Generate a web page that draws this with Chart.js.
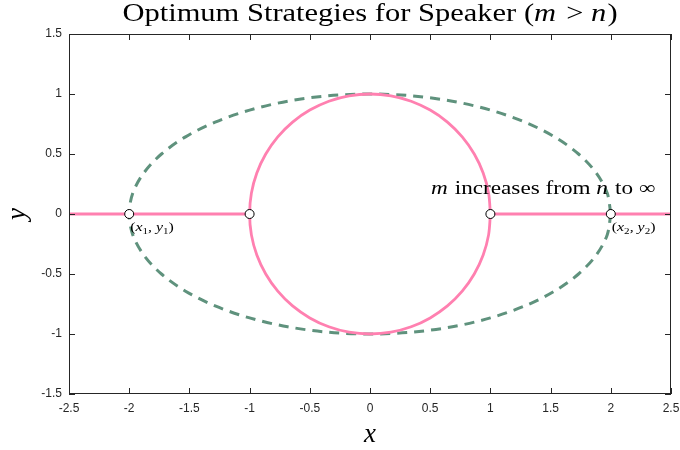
<!DOCTYPE html>
<html>
<head>
<meta charset="utf-8">
<script src="https://cdn.jsdelivr.net/npm/chart.js@4"></script>
<style>
  html, body { margin: 0; padding: 0; background: #ffffff; }
  #wrap { width: 680px; height: 450px; position: relative; }
</style>
</head>
<body>
<div id="wrap"><canvas id="chart" width="680" height="450"></canvas></div>
<script>
// Unit circle traced every 10 degrees
const circleX = [1, 0.985, 0.94, 0.866, 0.766, 0.643, 0.5, 0.342, 0.174, 0, -0.174, -0.342, -0.5, -0.643, -0.766, -0.866, -0.94, -0.985, -1, -0.985, -0.94, -0.866, -0.766, -0.643, -0.5, -0.342, -0.174, 0, 0.174, 0.342, 0.5, 0.643, 0.766, 0.866, 0.94, 0.985, 1];
const circleY = [0, 0.174, 0.342, 0.5, 0.643, 0.766, 0.866, 0.94, 0.985, 1, 0.985, 0.94, 0.866, 0.766, 0.643, 0.5, 0.342, 0.174, 0, -0.174, -0.342, -0.5, -0.643, -0.766, -0.866, -0.94, -0.985, -1, -0.985, -0.94, -0.866, -0.766, -0.643, -0.5, -0.342, -0.174, 0];

// Ellipse with semi-axes 2 (x) and 1 (y)
const ellipseX = [2, 1.97, 1.879, 1.732, 1.532, 1.286, 1, 0.684, 0.347, 0, -0.347, -0.684, -1, -1.286, -1.532, -1.732, -1.879, -1.97, -2, -1.97, -1.879, -1.732, -1.532, -1.286, -1, -0.684, -0.347, 0, 0.347, 0.684, 1, 1.286, 1.532, 1.732, 1.879, 1.97, 2];
const ellipseY = [0, 0.174, 0.342, 0.5, 0.643, 0.766, 0.866, 0.94, 0.985, 1, 0.985, 0.94, 0.866, 0.766, 0.643, 0.5, 0.342, 0.174, 0, -0.174, -0.342, -0.5, -0.643, -0.766, -0.866, -0.94, -0.985, -1, -0.985, -0.94, -0.866, -0.766, -0.643, -0.5, -0.342, -0.174, 0];

// Horizontal branches on the x axis
const leftBranchX = [-2.5, -1];
const rightBranchX = [1, 2.5];
const branchY = [0, 0];

// Marked points
const markerX = [-2, -1, 1, 2];
const markerY = [0, 0, 0, 0];

// Axis ranges and tick step
const xRange = [-2.5, 2.5];
const yRange = [-1.5, 1.5];
const tickStep = 0.5;

const zip = (xs, ys) => xs.map((x, i) => ({ x: x, y: ys[i] }));
const tickText = v => String(Math.round(v * 10) / 10);

const SERIF = '"Liberation Serif", "DejaVu Serif", serif';
const PINK = '#ff80b0';
const GREEN = '#5f927d';
const WIDEN = 1.22; // horizontal stretch for the serif math-style text

// Draws a run of text pieces (some italic), with optional subscripts
function drawRuns(ctx, runs, x, y, size, align) {
  let total = 0;
  const widths = runs.map(r => {
    const s = r.sub ? size * 0.7 : size;
    ctx.font = (r.it ? 'italic ' : '') + s + 'px ' + SERIF;
    const w = ctx.measureText(r.t).width + (r.gap || 0);
    total += w;
    return w;
  });
  const start = align === 'center' ? x - total * WIDEN / 2 : x;
  ctx.save();
  ctx.translate(start, y);
  ctx.scale(WIDEN, 1);
  ctx.textAlign = 'left';
  ctx.textBaseline = 'alphabetic';
  let cx = 0;
  runs.forEach((r, i) => {
    const s = r.sub ? size * 0.7 : size;
    ctx.font = (r.it ? 'italic ' : '') + s + 'px ' + SERIF;
    ctx.fillText(r.t, cx, r.sub ? size * 0.22 : 0);
    cx += widths[i];
  });
  ctx.restore();
}

const frame = {
  id: 'frame',
  afterDatasetsDraw(chart) {
    const ctx = chart.ctx;
    const a = chart.chartArea;
    const xs = chart.scales.x, ys = chart.scales.y;
    ctx.save();
    ctx.strokeStyle = '#262626';
    ctx.lineWidth = 1;
    ctx.strokeRect(a.left + 0.5, a.top + 0.5, a.right - a.left - 1, a.bottom - a.top - 1);
    ctx.beginPath();
    xs.ticks.forEach(t => {
      const px = Math.round(xs.getPixelForValue(t.value)) + 0.5;
      ctx.moveTo(px, a.bottom); ctx.lineTo(px, a.bottom - 6);
      ctx.moveTo(px, a.top); ctx.lineTo(px, a.top + 6);
    });
    ys.ticks.forEach(t => {
      const py = Math.round(ys.getPixelForValue(t.value)) + 0.5;
      ctx.moveTo(a.left, py); ctx.lineTo(a.left + 6, py);
      ctx.moveTo(a.right, py); ctx.lineTo(a.right - 6, py);
    });
    ctx.stroke();
    ctx.restore();
  },
  afterDraw(chart) {
    const ctx = chart.ctx;
    const a = chart.chartArea;
    const xs = chart.scales.x, ys = chart.scales.y;
    ctx.save();
    ctx.fillStyle = '#000000';

    // Title
    drawRuns(ctx, [
      { t: 'Optimum Strategies for Speaker (' },
      { t: 'm', it: true, gap: 2 },
      { t: ' > ' },
      { t: 'n', it: true, gap: 1 },
      { t: ')' }
    ], (a.left + a.right) / 2, 21, 25, 'center');

    // Axis titles
    ctx.font = 'italic 27px ' + SERIF;
    ctx.textAlign = 'center';
    ctx.textBaseline = 'alphabetic';
    ctx.fillText('x', (a.left + a.right) / 2, 442);
    ctx.save();
    ctx.translate(25, (a.top + a.bottom) / 2);
    ctx.rotate(-Math.PI / 2);
    ctx.fillText('y', 0, 0);
    ctx.restore();

    // Point annotations
    const p1x = xs.getPixelForValue(markerX[0]);
    const p2x = xs.getPixelForValue(markerX[3]);
    const py = ys.getPixelForValue(markerY[0]);
    drawRuns(ctx, [
      { t: '(' }, { t: 'x', it: true }, { t: '1', sub: true },
      { t: ', ' }, { t: 'y', it: true }, { t: '1', sub: true }, { t: ')' }
    ], p1x + 1, py + 17, 13, 'left');
    drawRuns(ctx, [
      { t: '(' }, { t: 'x', it: true }, { t: '2', sub: true },
      { t: ', ' }, { t: 'y', it: true }, { t: '2', sub: true }, { t: ')' }
    ], p2x + 1, py + 17, 13, 'left');

    // Annotation about m
    drawRuns(ctx, [
      { t: 'm', it: true, gap: 1 },
      { t: ' increases from ' },
      { t: 'n', it: true, gap: 1 },
      { t: ' to \u221E' }
    ], 431, 194, 19, 'left');
    ctx.restore();
  }
};

new Chart(document.getElementById('chart'), {
  type: 'scatter',
  data: {
    datasets: [
      {
        data: zip(ellipseX, ellipseY),
        showLine: true,
        borderColor: GREEN,
        borderWidth: 3,
        borderDash: [10, 7],
        tension: 0.33,
        pointRadius: 0,
        fill: false,
        order: 4
      },
      {
        data: zip(circleX, circleY),
        showLine: true,
        borderColor: PINK,
        borderWidth: 2.8,
        tension: 0.33,
        pointRadius: 0,
        fill: false,
        order: 3
      },
      {
        data: zip(leftBranchX, branchY),
        showLine: true,
        borderColor: PINK,
        borderWidth: 2.8,
        pointRadius: 0,
        order: 2
      },
      {
        data: zip(rightBranchX, branchY),
        showLine: true,
        borderColor: PINK,
        borderWidth: 2.8,
        pointRadius: 0,
        order: 2
      },
      {
        data: zip(markerX, markerY),
        showLine: false,
        pointRadius: 4.5,
        pointBackgroundColor: '#ffffff',
        pointBorderColor: '#000000',
        pointBorderWidth: 1,
        order: 1
      }
    ]
  },
  options: {
    responsive: false,
    animation: false,
    devicePixelRatio: 1,
    layout: { padding: { top: 34, right: 9, left: 0, bottom: 0 } },
    plugins: {
      legend: { display: false },
      tooltip: { enabled: false },
      title: { display: false }
    },
    scales: {
      x: {
        type: 'linear',
        min: xRange[0],
        max: xRange[1],
        grid: { display: false, drawTicks: false },
        border: { display: false },
        ticks: {
          stepSize: tickStep,
          autoSkip: false,
          padding: 7,
          color: '#262626',
          callback: tickText,
          font: { family: '"Liberation Sans", Arial, sans-serif', size: 12 }
        },
        afterFit(scale) { scale.height = 56; scale.paddingLeft = 0; scale.paddingRight = 0; }
      },
      y: {
        type: 'linear',
        min: yRange[0],
        max: yRange[1],
        grid: { display: false, drawTicks: false },
        border: { display: false },
        ticks: {
          stepSize: tickStep,
          autoSkip: false,
          padding: 7,
          color: '#262626',
          callback: tickText,
          font: { family: '"Liberation Sans", Arial, sans-serif', size: 12 }
        },
        afterFit(scale) { scale.width = 69; scale.paddingTop = 0; scale.paddingBottom = 0; }
      }
    }
  },
  plugins: [frame]
});
</script>
</body>
</html>
